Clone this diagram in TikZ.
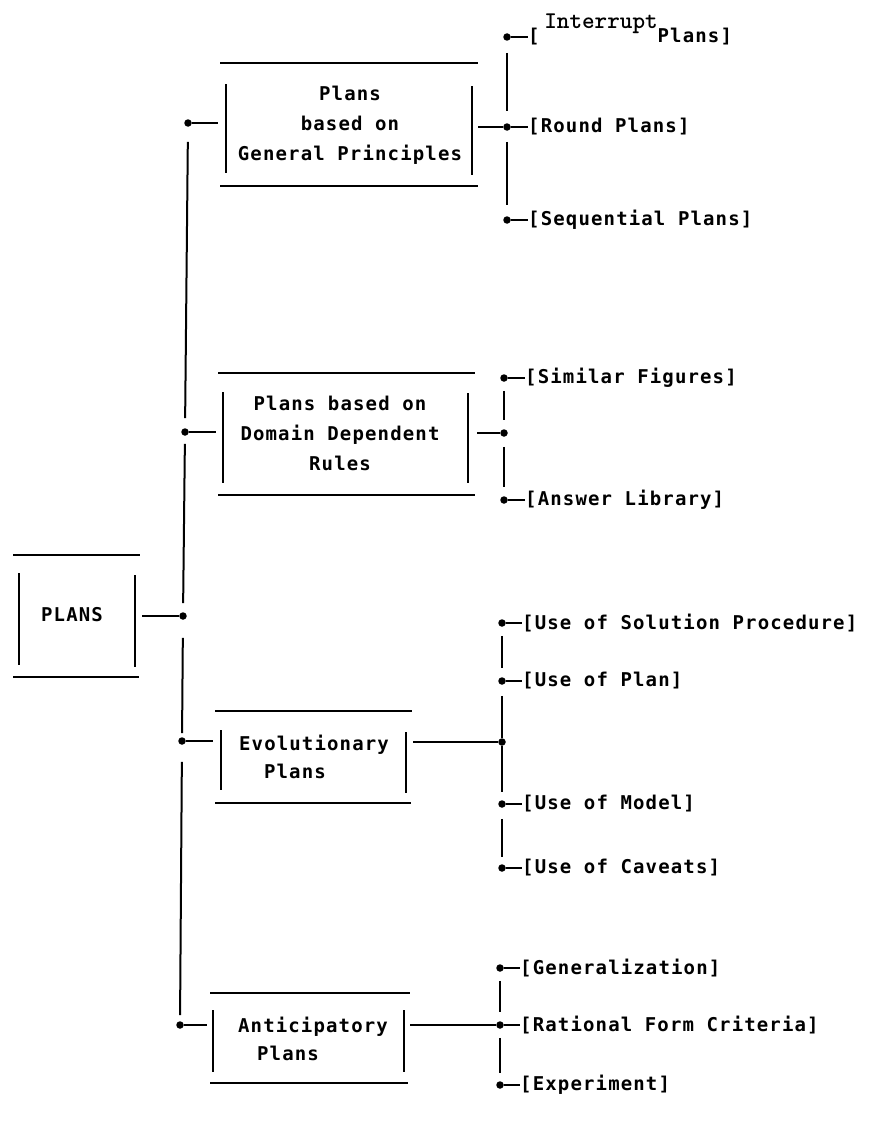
\documentclass[tikz,border=0pt]{standalone}
\usepackage{fontspec}
\newfontfamily\dmono[LetterSpace=6]{DejaVu Sans Mono}
\begin{document}
\begin{tikzpicture}[x=1pt,y=-1pt,
  ln/.style={line width=2pt},
  bar/.style={line width=2.4pt},
  dot/.style={circle,fill,inner sep=0pt,minimum size=7.5pt},
  lbl/.style={font=\dmono\bfseries\fontsize{19}{22}\selectfont,inner sep=0pt,anchor=west},
  btxt/.style={font=\dmono\bfseries\fontsize{19}{30}\selectfont,inner sep=0pt,align=center},
  btxtl/.style={font=\dmono\bfseries\fontsize{19}{28}\selectfont,inner sep=0pt,align=left},
  ]
\useasboundingbox (0,0) rectangle (875,1132);

% ---------- PLANS root ----------
\node[btxt] (plans) at (72,615) {PLANS};
\draw[bar] (13,555) -- (140,555);
\draw[bar] (13,677) -- (139,677);
\draw[ln] (19,573) -- (19,665);
\draw[ln] (135,575) -- (135,667);
\coordinate (plansR) at (142,616);

% ---------- trunk dots ----------
\node[dot] (t1) at (188,123) {};
\node[dot] (t2) at (185,432) {};
\node[dot] (t3) at (183,616) {};
\node[dot] (t4) at (182,741) {};
\node[dot] (t5) at (180,1025) {};
\draw[ln] (plansR) -- (t3);
\draw[ln,shorten <=15pt,shorten >=10pt] (t1) -- (t2);
\draw[ln,shorten <=8pt,shorten >=9pt] (t2) -- (t3);
\draw[ln,shorten <=18pt,shorten >=4pt] (t3) -- (t4);
\draw[ln,shorten <=17pt,shorten >=6pt] (t4) -- (t5);

% ---------- Box 1: General Principles ----------
\node[btxt] (gp) at (350,125) {Plans\\based on\\General Principles};
\draw[bar] (220,63) -- (478,63);
\draw[bar] (220,186) -- (478,186);
\draw[ln] (226,84) -- (226,173);
\draw[ln] (472,86) -- (472,175);
\coordinate (gpL) at (218,123);
\coordinate (gpR) at (478,127);
\draw[ln] (t1) -- (gpL);
\node[dot] (g0) at (507,127) {};
\node[dot] (g1) at (507,37) {};
\node[dot] (g3) at (507,220) {};
\draw[ln] (gpR) -- (g0);
\draw[ln,shorten <=12pt,shorten >=12pt] (g1) -- (g0);
\draw[ln,shorten <=11pt,shorten >=11pt] (g0) -- (g3);
\node[lbl] (l1) at (528,37) {[\hspace{118pt}Plans]};
\node[font=\ttfamily\bfseries\fontsize{24}{24}\selectfont,anchor=base,inner sep=0pt] (intr) at (601,29) {Interrupt};
\node[lbl] (l2) at (528,127) {[Round Plans]};
\node[lbl] (l3) at (528,220) {[Sequential Plans]};
\draw[ln] (g1) -- (l1.west);
\draw[ln] (g0) -- (l2.west);
\draw[ln] (g3) -- (l3.west);

% ---------- Box 2: Domain Dependent Rules ----------
\node[btxt] (dd) at (340,433) {Plans based on\\Domain Dependent\\Rules};
\draw[bar] (218,373) -- (475,373);
\draw[bar] (218,495) -- (475,495);
\draw[ln] (223,392) -- (223,483);
\draw[ln] (468,393) -- (468,483);
\coordinate (ddL) at (216,432);
\coordinate (ddR) at (477,433);
\draw[ln] (t2) -- (ddL);
\node[dot] (d0) at (504,433) {};
\node[dot] (d1) at (504,378) {};
\node[dot] (d3) at (504,500) {};
\draw[ln] (ddR) -- (d0);
\draw[ln,shorten <=9pt,shorten >=9pt] (d1) -- (d0);
\draw[ln,shorten <=10pt,shorten >=9pt] (d0) -- (d3);
\node[lbl] (m1) at (525,378) {[Similar Figures]};
\node[lbl] (m3) at (525,500) {[Answer Library]};
\draw[ln] (d1) -- (m1.west);
\draw[ln] (d3) -- (m3.west);

% ---------- Box 3: Evolutionary Plans ----------
\node[btxtl] (ev) at (314,757) {Evolutionary\\\hspace*{25pt}Plans};
\draw[bar] (215,711) -- (412,711);
\draw[bar] (215,803) -- (411,803);
\draw[ln] (221,730) -- (221,790);
\draw[ln] (406,732) -- (406,793);
\coordinate (evL) at (213,741);
\coordinate (evR) at (413,742);
\draw[ln] (t4) -- (evL);
\node[dot] (e0) at (502,742) {};
\node[dot] (e1) at (502,623) {};
\node[dot] (e2) at (502,681) {};
\node[dot] (e4) at (502,804) {};
\node[dot] (e5) at (502,868) {};
\draw[ln] (evR) -- (e0);
\draw[ln,shorten <=9pt,shorten >=9pt] (e1) -- (e2);
\draw[ln,shorten <=11pt] (e2) -- (e0);
\draw[ln,shorten >=8pt] (e0) -- (e4);
\draw[ln,shorten <=11pt,shorten >=7pt] (e4) -- (e5);
\node[lbl] (n1) at (522,623) {[Use of Solution Procedure]};
\node[lbl] (n2) at (522,681) {[Use of Plan]};
\node[lbl] (n4) at (522,804) {[Use of Model]};
\node[lbl] (n5) at (522,868) {[Use of Caveats]};
\draw[ln] (e1) -- (n1.west);
\draw[ln] (e2) -- (n2.west);
\draw[ln] (e4) -- (n4.west);
\draw[ln] (e5) -- (n5.west);

% ---------- Box 4: Anticipatory Plans ----------
\node[btxtl] (an) at (313,1039) {Anticipatory\\\hspace*{19pt}Plans};
\draw[bar] (210,993) -- (410,993);
\draw[bar] (210,1083) -- (408,1083);
\draw[ln] (213,1010) -- (213,1072);
\draw[ln] (404,1010) -- (404,1072);
\coordinate (anL) at (207,1025);
\coordinate (anR) at (410,1025);
\draw[ln] (t5) -- (anL);
\node[dot] (a0) at (500,1025) {};
\node[dot] (a1) at (500,968) {};
\node[dot] (a3) at (500,1085) {};
\draw[ln] (anR) -- (a0);
\draw[ln,shorten <=9pt,shorten >=9pt] (a1) -- (a0);
\draw[ln,shorten <=9pt,shorten >=8pt] (a0) -- (a3);
\node[lbl] (p1) at (520,968) {[Generalization]};
\node[lbl] (p2) at (520,1025) {[Rational Form Criteria]};
\node[lbl] (p3) at (520,1085) {[Experiment]};
\draw[ln] (a1) -- (p1.west);
\draw[ln] (a0) -- (p2.west);
\draw[ln] (a3) -- (p3.west);
\end{tikzpicture}
\end{document}
